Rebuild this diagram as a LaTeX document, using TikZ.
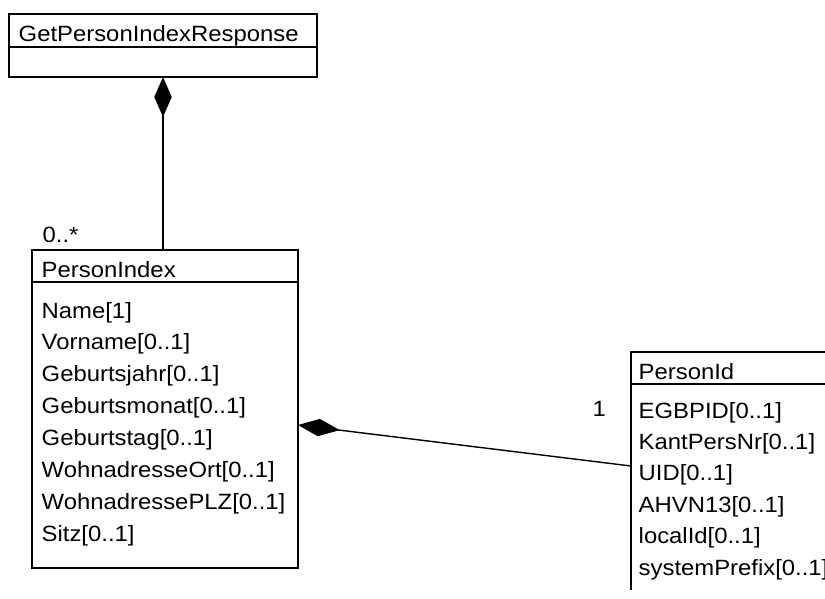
\documentclass[tikz,border=0pt]{standalone}
\usepackage{fontspec}
\setmainfont[FakeStretch=1.08]{Liberation Sans}
\usetikzlibrary{arrows.meta}
\begin{document}
\begin{tikzpicture}[x=1pt, y=-1pt, line width=1.4pt,
  classbox/.style={draw, rectangle, inner sep=0pt, outer sep=0pt, anchor=north west},
  txt/.style={anchor=base west, inner sep=0pt, font=\fontsize{22.1}{26}\selectfont},
  compo/.style={{Diamond[length=#1, width=17.5pt]}-},
  compo/.default=40pt]
\useasboundingbox (0,0) rectangle (825,598);
\clip (0,0) rectangle (825,598);

% class GetPersonIndexResponse
\node[classbox, minimum width=308pt, minimum height=63pt] (resp) at (9,14) {};
\draw (resp.west |- 0,47) -- (resp.east |- 0,47);
\node[txt] (respname) at (18,41) {GetPersonIndexResponse};

% class PersonIndex
\node[classbox, minimum width=266pt, minimum height=318pt] (idx) at (32,250) {};
\draw (idx.west |- 0,282) -- (idx.east |- 0,282);
\node[txt] (idxname) at (41,277) {PersonIndex};
\foreach \t [count=\i from 0] in {Name[1], Vorname[0..1], Geburtsjahr[0..1],
    Geburtsmonat[0..1], Geburtstag[0..1], WohnadresseOrt[0..1],
    WohnadressePLZ[0..1], Sitz[0..1]}
  \node[txt] (idxattr\i) at (41,318+31.9*\i) {\t};

% class PersonId (runs past the right and bottom edges)
\node[anchor=north west, inner sep=0pt, outer sep=0pt,
      minimum width=220pt, minimum height=238pt] (pid) at (631,352) {};
\draw (pid.south west) -- (pid.north west) -- (pid.north east);
\draw (pid.west |- 0,384) -- (pid.east |- 0,384);
\node[txt] (pidname) at (638,379) {PersonId};
\foreach \t [count=\i from 0] in {EGBPID[0..1], KantPersNr[0..1], UID[0..1],
    AHVN13[0..1], localId[0..1], systemPrefix[0..1]}
  \node[txt] (pidattr\i) at (638,418+31.4*\i) {\t};

% composition: GetPersonIndexResponse <>-- PersonIndex
\coordinate (c1) at (resp.south);
\draw[compo] (c1) -- (c1 |- idx.north);
\node[txt] (mult1) at (42,242) {0..*};

% composition: PersonIndex <>-- PersonId
\coordinate (c2a) at (idx.east |- 0,425);
\coordinate (c2b) at (pid.west |- 0,466);
\draw[compo=42pt] (c2a) -- (c2b);
\node[txt] (mult2) at (592,416) {1};
\end{tikzpicture}
\end{document}
